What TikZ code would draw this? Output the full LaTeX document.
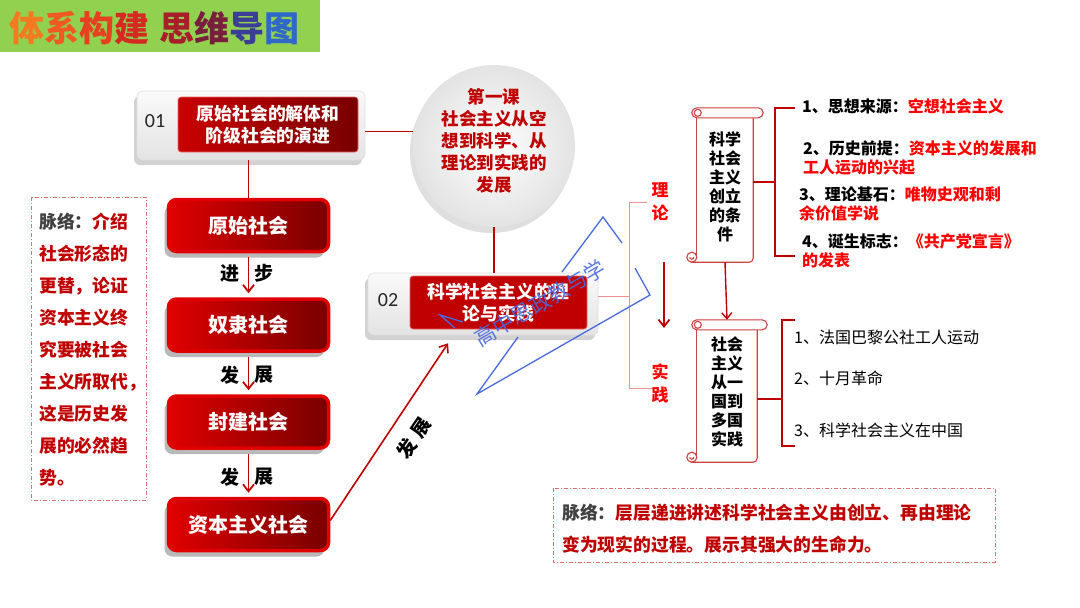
\documentclass[tikz,border=0pt]{standalone}
\usepackage{fontspec}
\setmainfont{Noto Sans CJK SC}
\newfontfamily\latinf{Carlito}
\usetikzlibrary{arrows.meta,shadows,calc}
\definecolor{dred}{HTML}{C00000}
\definecolor{bred}{HTML}{E00000}
\definecolor{mred}{HTML}{780000}
\definecolor{tred}{HTML}{FF0000}
\definecolor{cred}{HTML}{C00000}
\definecolor{scrc}{HTML}{D04040}
\definecolor{pinkl}{HTML}{F09090}
\definecolor{wmblue}{HTML}{4A6AE0}
\definecolor{greenbg}{HTML}{92D050}
\definecolor{ctxgrey}{HTML}{404040}
\definecolor{dashc}{HTML}{E07070}
\definecolor{ta}{HTML}{F47A20}
\definecolor{tb}{HTML}{EE5A22}
\definecolor{tc}{HTML}{E64020}
\definecolor{td}{HTML}{D42A22}
\definecolor{te}{HTML}{A81E2A}
\definecolor{tf}{HTML}{7A1E3E}
\definecolor{tg}{HTML}{3A3E96}
\definecolor{th}{HTML}{2F68C8}
\newcommand\fs[2]{\fontsize{#1}{#2}\selectfont}
\newcommand\scrollframe[1]{%
 \draw[scr, rounded corners=5pt, fill=white] ($(#1.north west)+(-5,0)$) rectangle ($(#1.north east)+(10,10)$);
 \draw[scr] ($(#1.north west)+(1,5)$) circle (3.5);
 \draw[scr] ($(#1.north west)+(0,10)$) -- ($(#1.south west)+(0,-6)$);
 \draw[scr, rounded corners=4pt] ($(#1.north east)+(0,10)$) -- (#1.south east) -- ($(#1.south west)+(-6,0)$);
 \draw[scr] ($(#1.south west)+(-5,-5)$) circle (5);
 \draw[scr] ($(#1.south west)+(-7,-5)$) arc (180:0:2);
}
\begin{document}
\begin{tikzpicture}[x=1pt,y=-1pt,
  line/.style={draw=dred, line width=1.8pt},
  arr/.style={draw=dred, line width=1.8pt, -{Straight Barb[length=7pt,width=11pt,line width=1.8pt]}},
  chainbox/.style={rounded corners=8pt, minimum width=160, minimum height=52, draw=bred, line width=3.5pt,
     left color=bred, right color=mred, text=white, font=\bfseries\fs{20}{24},
     drop shadow={shadow xshift=-4pt, shadow yshift=-6pt, opacity=0.55}},
  greybox/.style={rounded corners=6pt, top color=gray!4, bottom color=gray!22, draw=gray!25, line width=0.6pt,
     drop shadow={shadow xshift=-3pt, shadow yshift=-5pt, opacity=0.35}},
  redbox/.style={rounded corners=3pt, left color=bred!90!black, right color=mred, draw=bred!60!white, line width=0.6pt,
     text=white, font=\bfseries\fs{17.8}{22}, align=center},
  num/.style={font=\latinf\fs{20}{24}, text=black!85},
  lab/.style={font=\bfseries\fs{19}{22}, text=black, inner sep=0},
  scr/.style={draw=scrc, line width=1.1pt},
  scrolltext/.style={font=\bfseries\fs{16}{19}, align=center, inner sep=0},
  br/.style={draw=dred, line width=1.4pt},
  item/.style={font=\bfseries\fs{16}{19}, anchor=west, inner sep=0, align=left},
  item2/.style={font=\fs{16}{19}, anchor=west, inner sep=0},
  ctx/.style={font=\bfseries\fs{17.8}{22}, text=cred, anchor=west, inner sep=0},
  dashbox/.style={draw=dashc, line width=0.9pt, dash pattern=on 4pt off 2pt on 1pt off 2pt},
  wm/.style={draw=wmblue, line width=1.3pt}
]
\useasboundingbox (0,0) rectangle (1080,608);
\fill[white] (0,0) rectangle (1080,608);

% title
\fill[greenbg] (0,0) rectangle (320,52);
\node[anchor=west, inner sep=0, font=\bfseries\fs{35}{40}] (title) at (9,28)
  {\textcolor{ta}{体}\textcolor{tb}{系}\textcolor{tc}{构}\textcolor{td}{建}\hspace{10pt}\textcolor{te}{思}\textcolor{tf}{维}\textcolor{tg}{导}\textcolor{th}{图}};

% box 01
\node[greybox, minimum width=228, minimum height=69] (o1) at (251,125.5) {};
\node[num] (n1) at (155,121) {01};
\node[redbox, minimum width=180, minimum height=55] (r1) at (268,124.5) {原始社会的解体和\\阶级社会的演进};

% central circle
\node[circle, minimum size=162, inner color=white, outer color=gray!22,
      drop shadow={shadow xshift=-3pt, shadow yshift=-6pt, opacity=0.25}] (circ) at (494,146) {};
\node[font=\bfseries\fs{17.5}{22}, text=cred, align=center, inner sep=0] (ct) at (494,141)
  {第一课\\社会主义从空\\想到科学、从\\理论到实践的\\发展};

% box 02
\node[greybox, minimum width=230, minimum height=62] (o2) at (483,304) {};
\node[num] (n2) at (388,300) {02};
\node[redbox, minimum width=177, minimum height=53, left color=dred, right color=dred] (r2) at (498.5,302.5) {科学社会主义的理\\论与实践};

% connectors top
\draw[line] ([yshift=-6pt]o1.east) -- ([yshift=-6pt]o1.east -| circ.west);
\draw[line] (circ.south) -- (circ.south |- o2.north);

% chain
\node[chainbox] (c1) at (248.5,225.5) {原始社会};
\node[chainbox] (c2) at (248.5,325) {奴隶社会};
\node[chainbox] (c3) at (248.5,422) {封建社会};
\node[chainbox] (c4) at (248.5,524.5) {资本主义社会};

\draw[line] (c1.north |- o1.south) -- (c1.north);
\draw[arr] ([yshift=-4pt]c1.south) -- ([yshift=4pt]c2.north);
\draw[arr] ([yshift=-4pt]c2.south) -- ([yshift=4pt]c3.north);
\draw[arr] ([yshift=-4pt]c3.south) -- ([yshift=4pt]c4.north);
\node[lab] (l1a) at (230,273) {进};
\node[lab] (l1b) at (264,273) {步};
\node[lab] (l2a) at (230,375) {发};
\node[lab] (l2b) at (264,375) {展};
\node[lab] (l3a) at (230,477) {发};
\node[lab] (l3b) at (264,477) {展};

\coordinate (a2) at ([xshift=-35pt,yshift=-8pt]o2.south);
\draw[draw=dred, line width=1.6pt, -{Straight Barb[length=7pt,width=11pt,line width=1.6pt]}] ([yshift=4pt]c4.east) -- (a2);
\node[lab, rotate=56] (l4) at (414,438) {发\hspace{6pt}展};

% left context
\draw[dashbox] (31,197) rectangle (146,500);
\node[ctx] (k1) at (39,222) {\textcolor{ctxgrey}{脉络：}介绍};
\foreach \t [count=\i from 2] in {社会形态的,更替，论证,资本主义终,究要被社会,主义所取代，,这是历史发,展的必然趋,势。}
  \node[ctx] (k\i) at (39,{222+32*(\i-1)}) {\t};

% bottom context
\draw[dashbox] (553,488) rectangle (995,562);
\node[ctx] (m1) at (562,513) {\textcolor{ctxgrey}{脉络：}层层递进讲述科学社会主义由创立、再由理论};
\node[ctx] (m2) at (562,545) {变为现实的过程。展示其强大的生命力。};

% theory / practice bracket
\coordinate (pt) at (629,202);
\coordinate (pb) at (629,388);
\draw[draw=pinkl, line width=1pt] ([xshift=18pt]pt) -- (pt) -- (pb) -- ([xshift=26pt]pb);
\draw[draw=pinkl, line width=1pt] ([yshift=8pt]o2.east) -- ([yshift=8pt]o2.east -| pt);
\node[font=\bfseries\fs{17}{23}, text=tred, align=center, inner sep=0] (th1) at (660,201.5) {理\\论};
\node[font=\bfseries\fs{17}{23}, text=tred, align=center, inner sep=0] (pr1) at (660,383.5) {实\\践};
\coordinate (ta1) at (664,262);
\coordinate (ta2) at (664,328);
\draw[arr] (ta1) -- (ta2);

% scroll 1
\node[scrolltext, minimum width=56, minimum height=154] (s1) at (725,185) {};
\scrollframe{s1}
\node[scrolltext] (s1t) at (725,187) {科学\\社会\\主义\\创立\\的条\\件};

% scroll 2
\node[scrolltext, minimum width=60, minimum height=142] (s2) at (727,391) {};
\scrollframe{s2}
\node[scrolltext] (s2t) at (727,392) {社会\\主义\\从一\\国到\\多国\\实践};

\draw[draw=dred, line width=1.4pt, -{Straight Barb[length=6pt,width=10pt,line width=1.4pt]}] (s1.south) -- (s2.north);

% bracket 1
\coordinate (b1t) at (775,108);
\coordinate (b1b) at (775,256);
\draw[br] ([yshift=3pt]s1.east) -- ([yshift=3pt]s1.east -| b1t);
\draw[br] ([xshift=20pt]b1t) -- (b1t) -- (b1b) -- ([xshift=20pt]b1b);
\node[item] (i1) at (802,106) {1、思想来源：\textcolor{tred}{空想社会主义}};
\node[item] (i2) at (803,157.5) {2、历史前提：\textcolor{tred}{资本主义的发展和}\\\textcolor{tred}{工人运动的兴起}};
\node[item] (i3) at (799,203.5) {3、理论基石：\textcolor{tred}{唯物史观和剩}\\\textcolor{tred}{余价值学说}};
\node[item] (i4) at (802,251) {4、诞生标志：\textcolor{tred}{《共产党宣言》}\\\textcolor{tred}{的发表}};

% bracket 2
\coordinate (b2t) at (782,320);
\coordinate (b2b) at (782,446);
\draw[br] ([yshift=-8pt]s2.east) -- ([yshift=-8pt]s2.east -| b2t);
\draw[br] ([xshift=13pt]b2t) -- (b2t) -- (b2b) -- ([xshift=13pt]b2b);
\node[item2] (j1) at (794,337) {1、法国巴黎公社工人运动};
\node[item2] (j2) at (794,378) {2、十月革命};
\node[item2] (j3) at (794,430) {3、科学社会主义在中国};

% watermark
\draw[wm] (622,243) -- (603,217) -- (562,272);
\draw[wm] (518,337) -- (477,394) -- (650,295) -- (635,268);
\draw[wm] (463,322) -- (440,315) -- (455,328);
\node[font=\fs{21}{24}, text=wmblue, opacity=0.9, rotate=30.5, inner sep=0] (wmt) at (540,303) {高中思政教与学};
\end{tikzpicture}
\end{document}
